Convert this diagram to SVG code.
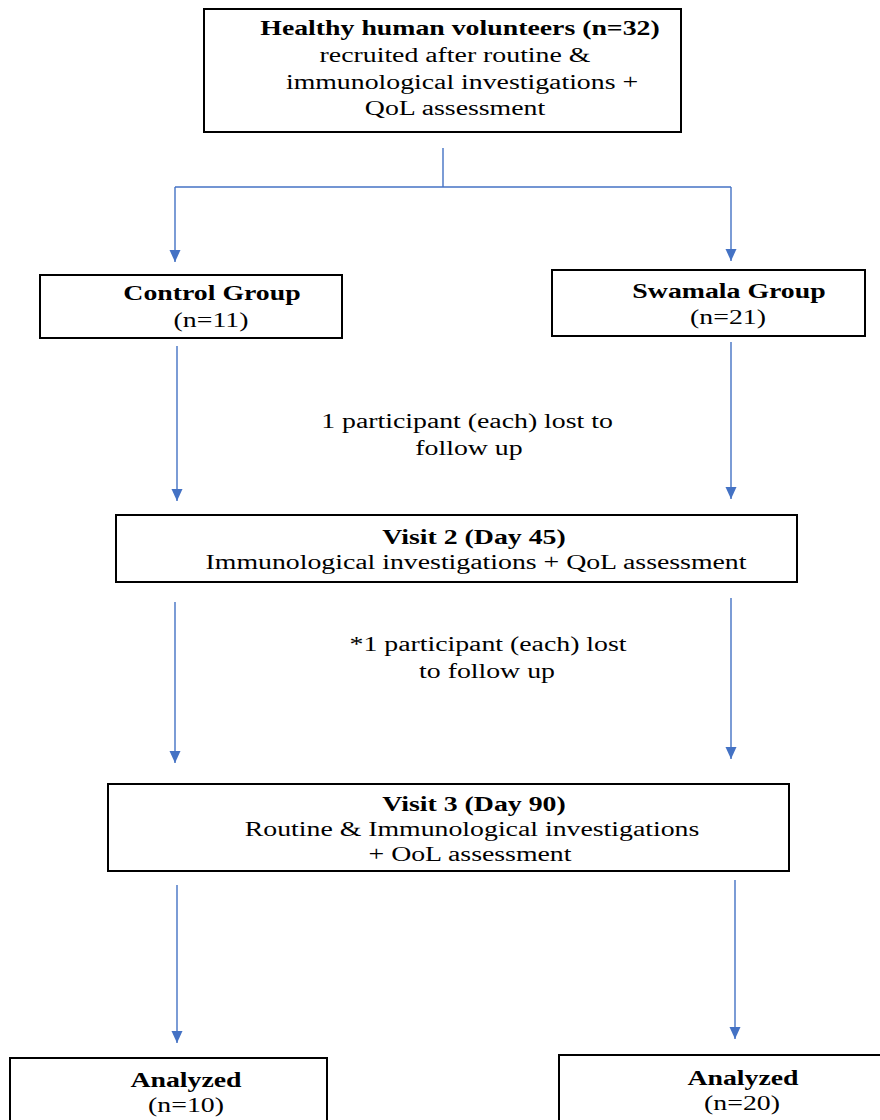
<svg xmlns="http://www.w3.org/2000/svg" width="880" height="1120" viewBox="0 0 880 1120">
<style>
.box{fill:#fff;stroke:#000;stroke-width:2}
.t{font-size:20px;fill:#000;text-anchor:middle}
.b{font-weight:bold}
.c{stroke:#4472C4;stroke-width:1.4;fill:none}
</style>
<defs>
<marker id="ah" viewBox="0 0 12 12" refX="12" refY="6" markerWidth="12" markerHeight="12" markerUnits="userSpaceOnUse" orient="auto">
<path d="M0,0.5 L12,6 L0,11.5 Z" fill="#4472C4"/>
</marker>
</defs>
<rect width="880" height="1120" fill="#fff"/>
<g id="connectors">
<path class="c" d="M443,148 V187"/>
<path class="c" d="M175,187 H731"/>
<path class="c" d="M175,187 V262" marker-end="url(#ah)"/>
<path class="c" d="M731,187 V261" marker-end="url(#ah)"/>
<path class="c" d="M177,346 V501" marker-end="url(#ah)"/>
<path class="c" d="M731,342 V499" marker-end="url(#ah)"/>
<path class="c" d="M175,602 V763" marker-end="url(#ah)"/>
<path class="c" d="M731,598 V759" marker-end="url(#ah)"/>
<path class="c" d="M177,885 V1043" marker-end="url(#ah)"/>
<path class="c" d="M735,880 V1039" marker-end="url(#ah)"/>
</g>
<g id="n_top">
<rect class="box" x="204" y="9" width="477" height="123"/>
<text class="t b" font-family="Liberation Serif" transform="translate(460 35) scale(1.39 1)">Healthy human volunteers (n=32)</text>
<text class="t" font-family="Liberation Serif" transform="translate(455 62) scale(1.39 1)">recruited after routine &amp;</text>
<text class="t" font-family="Liberation Serif" transform="translate(462 89) scale(1.39 1)">immunological investigations +</text>
<text class="t" font-family="Liberation Serif" transform="translate(455 115) scale(1.39 1)">QoL assessment</text>
</g>
<g id="n_control">
<rect class="box" x="40" y="275" width="302" height="63"/>
<text class="t b" font-family="Liberation Serif" transform="translate(212 300) scale(1.39 1)">Control Group</text>
<text class="t" font-family="Liberation Serif" transform="translate(211 327) scale(1.39 1)">(n=11)</text>
</g>
<g id="n_swamala">
<rect class="box" x="552" y="270" width="313" height="66"/>
<text class="t b" font-family="Liberation Serif" transform="translate(729 298) scale(1.39 1)">Swamala Group</text>
<text class="t" font-family="Liberation Serif" transform="translate(728 324) scale(1.39 1)">(n=21)</text>
</g>
<g id="l_lost1">
<text class="t" font-family="Liberation Serif" transform="translate(467 428) scale(1.39 1)">1 participant (each) lost to</text>
<text class="t" font-family="Liberation Serif" transform="translate(469 455) scale(1.39 1)">follow up</text>
</g>
<g id="n_visit2">
<rect class="box" x="116" y="515" width="681" height="67"/>
<text class="t b" font-family="Liberation Serif" transform="translate(474 544) scale(1.39 1)">Visit 2 (Day 45)</text>
<text class="t" font-family="Liberation Serif" transform="translate(476 569) scale(1.39 1)">Immunological investigations + QoL assessment</text>
</g>
<g id="l_lost2">
<text class="t" font-family="Liberation Serif" transform="translate(488 651) scale(1.39 1)">*1 participant (each) lost</text>
<text class="t" font-family="Liberation Serif" transform="translate(487 678) scale(1.39 1)">to follow up</text>
</g>
<g id="n_visit3">
<rect class="box" x="108" y="784" width="681" height="87"/>
<text class="t b" font-family="Liberation Serif" transform="translate(474 811) scale(1.39 1)">Visit 3 (Day 90)</text>
<text class="t" font-family="Liberation Serif" transform="translate(472 836) scale(1.39 1)">Routine &amp; Immunological investigations</text>
<text class="t" font-family="Liberation Serif" transform="translate(470 861) scale(1.39 1)">+ OoL assessment</text>
</g>
<g id="n_an1">
<rect class="box" x="10" y="1058" width="317" height="70"/>
<text class="t b" font-family="Liberation Serif" transform="translate(186 1087) scale(1.39 1)">Analyzed</text>
<text class="t" font-family="Liberation Serif" transform="translate(186 1112) scale(1.39 1)">(n=10)</text>
</g>
<g id="n_an2">
<rect class="box" x="559" y="1055" width="330" height="70"/>
<text class="t b" font-family="Liberation Serif" transform="translate(743 1085) scale(1.39 1)">Analyzed</text>
<text class="t" font-family="Liberation Serif" transform="translate(742 1110) scale(1.39 1)">(n=20)</text>
</g>
</svg>
